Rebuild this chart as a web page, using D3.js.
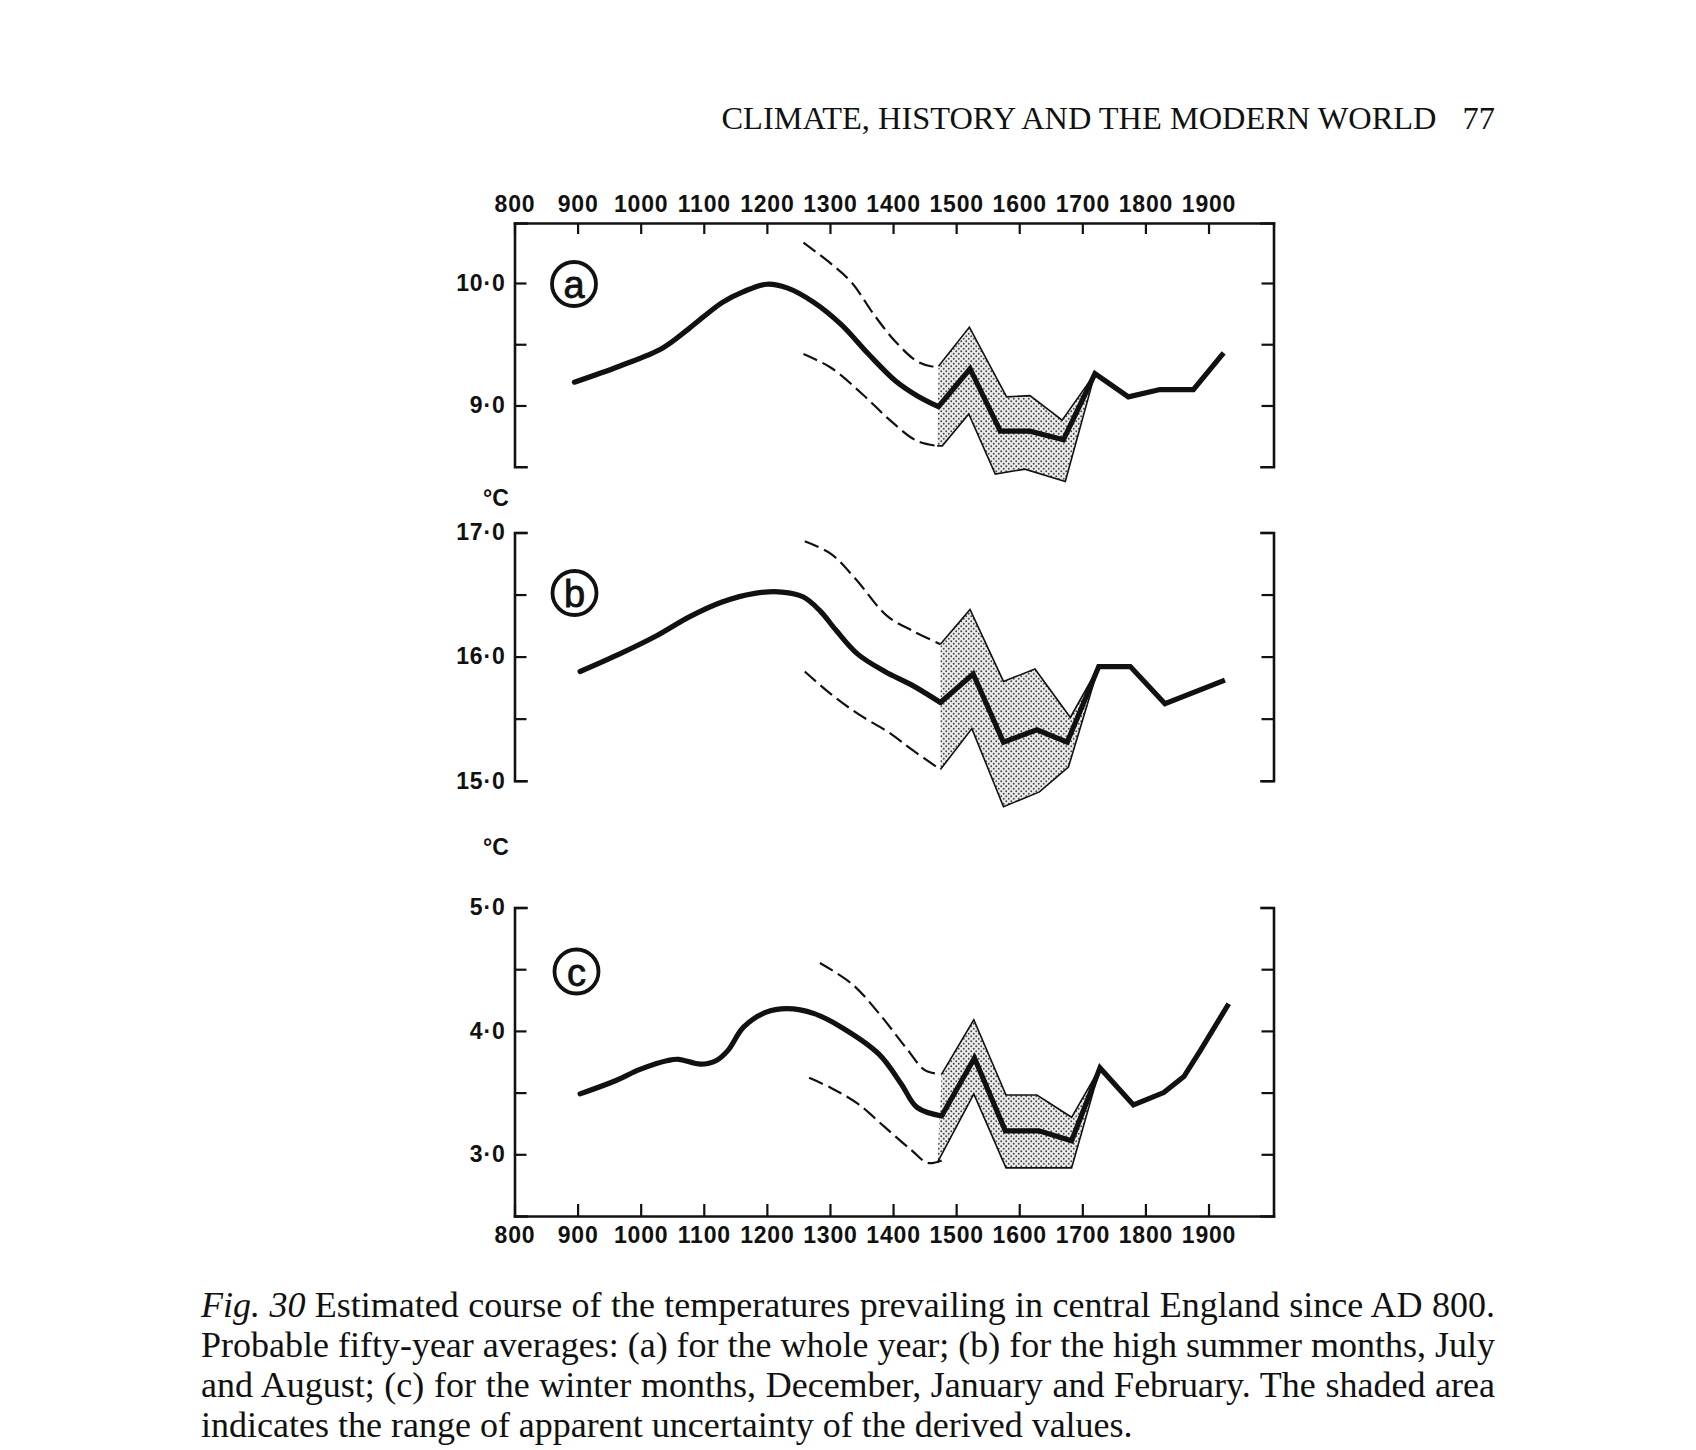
<!DOCTYPE html>
<html><head><meta charset="utf-8">
<script src="https://cdn.jsdelivr.net/npm/d3@7"></script>
<style>
html,body{margin:0;padding:0;background:#fff;}
svg{display:block;}
</style></head><body>
<svg id="chart" width="1696" height="1450"></svg>
<script>
// ---------------- DATA ----------------
const centuries = [800, 900, 1000, 1100, 1200, 1300, 1400, 1500, 1600, 1700, 1800, 1900];

// (a) whole year
const aTickValues = [9.0, 9.5, 10.0];
const aMainSmooth = [[895,9.19],[966,9.32],[1035,9.47],[1077,9.63],[1129,9.84],[1163,9.93],[1200,9.99],[1232,9.96],[1275,9.84],[1318,9.66],[1361,9.42],[1404,9.20],[1438,9.08],[1472,8.99]];
const aMainBroken = [[1472,8.99],[1522,9.30],[1570,8.79],[1617,8.79],[1670,8.72],[1720,9.26],[1773,9.07],[1823,9.13],[1876,9.13],[1924,9.43]];
const aUpperDashed = [[1258,10.33],[1301,10.16],[1335,10.0],[1370,9.74],[1404,9.52],[1438,9.36],[1460,9.32],[1472,9.32]];
const aLowerDashed = [[1258,9.42],[1301,9.31],[1352,9.09],[1395,8.88],[1438,8.71],[1470,8.67]];
const aBandUpper = [[1472,9.32],[1521,9.64],[1580,9.07],[1617,9.08],[1668,8.88],[1720,9.26]];
const aBandLower = [[1470,8.67],[1478,8.67],[1520,8.93],[1562,8.44],[1609,8.48],[1673,8.38],[1720,9.26]];

// (b) high summer
const bTickValues = [15.0, 15.5, 16.0, 16.5, 17.0];
const bMainSmooth = [[904,15.88],[966,16.02],[1026,16.17],[1077,16.32],[1129,16.44],[1181,16.51],[1224,16.52],[1258,16.48],[1284,16.37],[1310,16.21],[1344,16.02],[1387,15.88],[1430,15.77],[1475,15.63]];
const bMainBroken = [[1475,15.63],[1527,15.86],[1575,15.31],[1628,15.41],[1676,15.31],[1726,15.92],[1776,15.92],[1831,15.62],[1926,15.81]];
const bUpperDashed = [[1260,16.93],[1301,16.83],[1340,16.63],[1390,16.33],[1430,16.21],[1475,16.10]];
const bLowerDashed = [[1260,15.88],[1301,15.70],[1344,15.54],[1396,15.38],[1430,15.25],[1475,15.09]];
const bBandUpper = [[1475,16.10],[1522,16.38],[1575,15.80],[1625,15.90],[1681,15.51],[1726,15.92]];
const bBandLower = [[1475,15.09],[1525,15.42],[1575,14.79],[1632,14.91],[1678,15.11],[1726,15.92]];

// (c) winter
const cTickValues = [3.0, 3.5, 4.0, 4.5, 5.0];
const cMainSmooth = [[904,3.49],[957,3.59],[1000,3.69],[1043,3.76],[1060,3.77],[1095,3.73],[1120,3.76],[1138,3.84],[1163,4.03],[1198,4.15],[1232,4.18],[1275,4.14],[1318,4.03],[1378,3.81],[1413,3.57],[1438,3.38],[1477,3.31]];
const cMainBroken = [[1477,3.31],[1529,3.78],[1578,3.19],[1631,3.19],[1683,3.11],[1728,3.70],[1781,3.40],[1829,3.50],[1861,3.63],[1887,3.84],[1932,4.22]];
const cUpperDashed = [[1284,4.55],[1335,4.38],[1378,4.14],[1421,3.86],[1451,3.68],[1477,3.65]];
const cLowerDashed = [[1267,3.62],[1301,3.54],[1344,3.41],[1387,3.22],[1430,3.03],[1455,2.93],[1477,2.95]];
const cBandUpper = [[1477,3.65],[1528,4.09],[1579,3.48],[1628,3.48],[1683,3.30],[1728,3.70]];
const cBandLower = [[1470,2.93],[1528,3.49],[1579,2.89],[1683,2.89],[1728,3.70]];

const headerText = "CLIMATE, HISTORY AND THE MODERN WORLD";
const pageNumber = "77";
const captionLines = [
  ["Fig. 30", " Estimated course of the temperatures prevailing in central England since AD 800."],
  ["", "Probable fifty-year averages: (a) for the whole year; (b) for the high summer months, July"],
  ["", "and August; (c) for the winter months, December, January and February. The shaded area"],
  ["", "indicates the range of apparent uncertainty of the derived values."]
];

// ---------------- LAYOUT ----------------
const svg = d3.select("#chart");
const INK = "#111";
const sansFont = "'Liberation Sans', Arial, sans-serif";
const serifFont = "'Liberation Serif', 'Times New Roman', serif";

const x = d3.scaleLinear().domain([800, 2003]).range([514.5, 1273.5]);

const panels = [
  { id: "a", y: d3.scaleLinear().domain([8.5, 10.0]).range([466.7, 283]), top: 10.49, ticks: aTickValues,
    mainSmooth: aMainSmooth, mainBroken: aMainBroken, upD: aUpperDashed, loD: aLowerDashed,
    bandU: aBandUpper, bandL: aBandLower, circle: [574, 284] },
  { id: "b", y: d3.scaleLinear().domain([15.0, 17.0]).range([780.7, 532.5]), top: 17.0, ticks: bTickValues,
    mainSmooth: bMainSmooth, mainBroken: bMainBroken, upD: bUpperDashed, loD: bLowerDashed,
    bandU: bBandUpper, bandL: bBandLower, circle: [574.5, 593] },
  { id: "c", y: d3.scaleLinear().domain([2.5, 5.0]).range([1216, 907.5]), top: 5.0, ticks: cTickValues,
    mainSmooth: cMainSmooth, mainBroken: cMainBroken, upD: cUpperDashed, loD: cLowerDashed,
    bandU: cBandUpper, bandL: cBandLower, circle: [576.5, 971.5] }
];
// extend scale a up to the top frame
panels[0].y = d3.scaleLinear().domain([8.5, panels[0].top]).range([466.7, panels[0].y(panels[0].top)]);

// stipple pattern
const defs = svg.append("defs");
const pat = defs.append("pattern").attr("id", "stipple").attr("patternUnits", "userSpaceOnUse")
  .attr("width", 5).attr("height", 5);
pat.append("rect").attr("width", 5).attr("height", 5).attr("fill", "#ebebeb");
pat.append("circle").attr("cx", 1.25).attr("cy", 1.25).attr("r", 0.95).attr("fill", "#444");
pat.append("circle").attr("cx", 3.75).attr("cy", 3.75).attr("r", 0.95).attr("fill", "#444");

function styleAxis(g) {
  g.attr("font-family", null).attr("font-size", null);
  g.select(".domain").attr("stroke", INK).attr("stroke-width", 2.6).attr("stroke-linecap", "square");
  g.selectAll(".tick line").attr("stroke", INK).attr("stroke-width", 2.2);
  g.selectAll(".tick text").attr("fill", INK)
    .style("font-family", sansFont).style("font-weight", "bold").style("font-size", "23px")
    .style("letter-spacing", "0.8px");
}
const yFmt = v => Number.isInteger(v) ? d3.format(".1f")(v).replace(".", "\u00B7") : "";

// top and bottom x axes
const frameTop = panels[0].y.range()[1];
const frameBottom = panels[2].y.range()[0];
svg.append("g").attr("transform", `translate(0,${frameTop})`)
  .call(d3.axisTop(x).tickValues(centuries).tickSizeInner(-11).tickSizeOuter(0).tickPadding(10.5).tickFormat(d3.format("d")))
  .call(styleAxis);
svg.append("g").attr("transform", `translate(0,${frameBottom})`)
  .call(d3.axisBottom(x).tickValues(centuries).tickSizeInner(-12).tickSizeOuter(0).tickPadding(11).tickFormat(d3.format("d")))
  .call(styleAxis);

const lineGen = (p, curve) => d3.line().x(d => x(d[0])).y(d => p.y(d[1])).curve(curve);

panels.forEach(p => {
  // axes
  svg.append("g").attr("transform", `translate(${x.range()[0]},0)`)
    .call(d3.axisLeft(p.y).tickValues(p.ticks).tickSizeInner(-12).tickSizeOuter(-12).tickPadding(9).tickFormat(yFmt))
    .call(styleAxis);
  svg.append("g").attr("transform", `translate(${x.range()[1]},0)`)
    .call(d3.axisRight(p.y).tickValues(p.ticks).tickSizeInner(-12).tickSizeOuter(-12).tickFormat(() => ""))
    .call(styleAxis);

  const g = svg.append("g");
  // band
  const poly = p.bandU.concat(p.bandL.slice().reverse());
  g.append("path").attr("d", lineGen(p, d3.curveLinearClosed)(poly))
    .attr("fill", "url(#stipple)").attr("stroke", "none");
  [p.bandU, p.bandL].forEach(arr => {
    g.append("path").attr("d", lineGen(p, d3.curveLinear)(arr))
      .attr("fill", "none").attr("stroke", INK).attr("stroke-width", 1.6).attr("stroke-linejoin", "miter");
  });
  // dashed envelopes
  [p.upD, p.loD].forEach(arr => {
    g.append("path").attr("d", lineGen(p, d3.curveCatmullRom)(arr))
      .attr("fill", "none").attr("stroke", INK).attr("stroke-width", 2.2)
      .attr("stroke-dasharray", "15,6");
  });
  // main curve
  g.append("path").attr("d", lineGen(p, d3.curveCatmullRom)(p.mainSmooth))
    .attr("fill", "none").attr("stroke", INK).attr("stroke-width", 5.2).attr("stroke-linecap", "round");
  g.append("path").attr("d", lineGen(p, d3.curveLinear)(p.mainBroken))
    .attr("fill", "none").attr("stroke", INK).attr("stroke-width", 5.2)
    .attr("stroke-linejoin", "miter").attr("stroke-miterlimit", 6).attr("stroke-linecap", "butt");
  // circled letter
  g.append("circle").attr("cx", p.circle[0]).attr("cy", p.circle[1]).attr("r", 22)
    .attr("fill", "#fff").attr("stroke", INK).attr("stroke-width", 3.8);
  g.append("text").attr("x", p.circle[0]).attr("y", p.circle[1]).attr("dy", p.id === "b" ? "0.36em" : "0.38em")
    .attr("text-anchor", "middle").style("font-family", sansFont).style("font-size", "38px")
    .style("font-weight", "normal").style("stroke", INK).style("stroke-width", "0.8px")
    .attr("fill", INK).text(p.id);
});

// degree labels
[[496, 506], [496, 855]].forEach(pos => {
  svg.append("text").attr("x", pos[0]).attr("y", pos[1]).attr("text-anchor", "middle")
    .style("font-family", sansFont).style("font-weight", "bold").style("font-size", "23px")
    .attr("fill", INK).text("\u00B0C");
});

// header
svg.append("text").attr("x", 721.5).attr("y", 129).style("font-family", serifFont)
  .style("font-size", "32.4px").attr("fill", INK).text(headerText);
svg.append("text").attr("x", 1495).attr("y", 129).attr("text-anchor", "end").style("font-family", serifFont)
  .style("font-size", "32.4px").attr("fill", INK).text(pageNumber);

// caption (justified)
const capLeft = 201, capRight = 1495, capBase = 1317, capLead = 40;
captionLines.forEach((ln, i) => {
  const t = svg.append("text").attr("x", capLeft).attr("y", capBase + i * capLead)
    .style("font-family", serifFont).style("font-size", "36px").attr("fill", INK)
    .attr("xml:space", "preserve");
  if (ln[0]) t.append("tspan").style("font-style", "italic").text(ln[0]);
  t.append("tspan").text(ln[1]);
  if (i < captionLines.length - 1) {
    const nat = t.node().getComputedTextLength();
    const spaces = (ln[0] + ln[1]).split(" ").length - 1;
    t.style("word-spacing", ((capRight - capLeft - nat) / spaces) + "px");
  }
});
</script>
</body></html>
